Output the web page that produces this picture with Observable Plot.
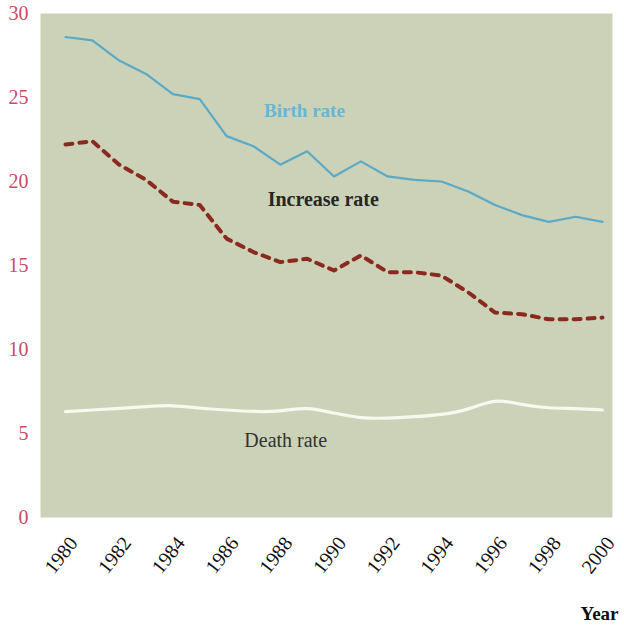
<!DOCTYPE html>
<html>
<head>
<meta charset="utf-8">
<script src="https://cdn.jsdelivr.net/npm/d3@7"></script>
<script src="https://cdn.jsdelivr.net/npm/@observablehq/plot@0.6"></script>
<style>
  html, body { margin: 0; padding: 0; background: #ffffff; }
  #chart svg { display: block; }
</style>
</head>
<body>
<div id="chart"></div>
<script>
const years = [1980,1981,1982,1983,1984,1985,1986,1987,1988,1989,1990,1991,1992,1993,1994,1995,1996,1997,1998,1999,2000];
const birthRate    = [28.6,28.4,27.2,26.4,25.2,24.9,22.7,22.1,21.0,21.8,20.3,21.2,20.3,20.1,20.0,19.4,18.6,18.0,17.6,17.9,17.6];
const increaseRate = [22.2,22.4,21.0,20.1,18.8,18.6,16.6,15.8,15.2,15.4,14.7,15.6,14.6,14.6,14.4,13.4,12.2,12.1,11.8,11.8,11.9];
const deathRate    = [6.3,6.4,6.5,6.6,6.7,6.5,6.4,6.3,6.3,6.6,6.2,5.9,5.9,6.0,6.1,6.4,7.1,6.7,6.5,6.5,6.4];
const xTicks = [1980,1982,1984,1986,1988,1990,1992,1994,1996,1998,2000];
const yTicks = [0,5,10,15,20,25,30];
const seriesLabels = ["Birth rate","Increase rate","Death rate"];
const labelYears = [1988.9, 1989.6, 1988.2];
const labelValues = [24.2, 18.9, 4.6];

const birth = years.map((y,i) => ({year:y, v:birthRate[i]}));
const incr  = years.map((y,i) => ({year:y, v:increaseRate[i]}));
const death = years.map((y,i) => ({year:y, v:deathRate[i]}));
const labels = seriesLabels.map((t,i) => ({text:t, year:labelYears[i], v:labelValues[i]}));

const serif = "'Liberation Serif', 'DejaVu Serif', serif";

const chart = Plot.plot({
  width: 624,
  height: 626,
  marginLeft: 40,
  marginRight: 12,
  marginTop: 13,
  marginBottom: 109,
  style: {fontFamily: serif, background: "#ffffff"},
  x: {domain: [1980, 2000], insetLeft: 25, insetRight: 10},
  y: {domain: [0, 30]},
  marks: [
    Plot.frame({fill: "#ccd2b8", stroke: null}),
    Plot.axisY({ticks: yTicks, tickSize: 0, tickPadding: 12, fontSize: 20, fill: "#d04a68", label: null}),
    Plot.axisX({ticks: xTicks, tickFormat: d => String(d), tickSize: 0, tickRotate: -52, tickPadding: 22, dx: 8, fontSize: 20, fill: "#111", label: null}),
    Plot.line(death, {x: "year", y: "v", stroke: "#f6f9ee", strokeWidth: 3.2, curve: "basis"}),
    Plot.line(birth, {x: "year", y: "v", stroke: "#5aa9c6", strokeWidth: 2.2}),
    Plot.line(incr, {x: "year", y: "v", stroke: "#8a2a1e", strokeWidth: 4, strokeDasharray: "7,7"}),
    Plot.text(labels.slice(0,1), {x: "year", y: "v", text: "text", fill: "#68b6d2", fontSize: 19, fontWeight: "bold"}),
    Plot.text(labels.slice(1,2), {x: "year", y: "v", text: "text", fill: "#262626", fontSize: 20, fontWeight: "bold"}),
    Plot.text(labels.slice(2,3), {x: "year", y: "v", text: "text", fill: "#333", fontSize: 20}),
    Plot.text(["Year"], {frameAnchor: "bottom-right", text: d => d, dy: 102, dx: 6, textAnchor: "end", fontSize: 19, fontWeight: "bold", fill: "#111"})
  ]
});
document.getElementById("chart").appendChild(chart);
</script>
</body>
</html>
